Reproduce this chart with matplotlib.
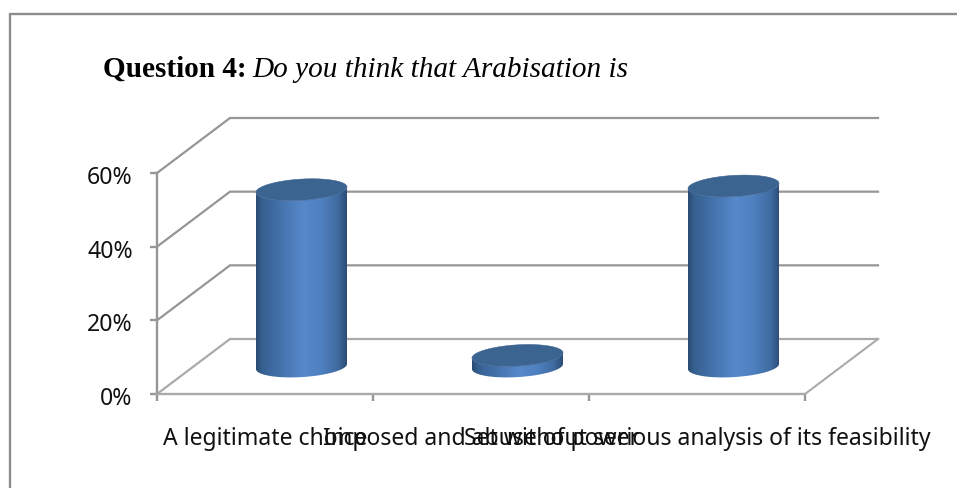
import numpy as np
import matplotlib
matplotlib.use("Agg")
import matplotlib.pyplot as plt
from matplotlib.colors import LinearSegmentedColormap
from matplotlib.lines import Line2D
from matplotlib.patches import Polygon
from matplotlib.transforms import ScaledTranslation

categories = ["A legitimate choice", "Imposed and abuse of power",
              "Set without serious analysis of its feasibility"]
shares = [0.48, 0.03, 0.49]
y_ticks = [0.0, 0.2, 0.4, 0.6]
y_labels = ["0%", "20%", "40%", "60%"]

W, H = 957, 488
GRID = "#969696"
FLOOR = "#aaaaaa"

fig = plt.figure(figsize=(W / 100, H / 100), dpi=100, facecolor="white")
ax = fig.add_axes([157 / W, 1 - 394 / H, 648 / W, 221 / H])
ax.set_xlim(0, 3)
ax.set_ylim(0, 0.6)
ax.patch.set_alpha(0)

# Oblique projection of the chart box, in data units
depth_x = 73 / 648 * 3
depth_y = 55 / 221 * 0.6

for v in y_ticks:
    color = FLOOR if v == 0 else GRID
    ax.plot([0, depth_x, 3 + depth_x], [v, v + depth_y, v + depth_y],
            color=color, lw=1.6, clip_on=False, zorder=1, solid_joinstyle="miter")
ax.plot([3, 3 + depth_x], [0, depth_y], color=FLOOR, lw=1.5, clip_on=False, zorder=1)

for side in ("top", "right"):
    ax.spines[side].set_visible(False)
ax.spines["left"].set_color(GRID)
ax.spines["left"].set_linewidth(1.7)
ax.spines["bottom"].set_color(FLOOR)
ax.spines["bottom"].set_linewidth(1.7)

ax.set_yticks(y_ticks, y_labels)
ax.set_xticks([0, 1, 2, 3], [])
ax.set_xticks([0.5, 1.5, 2.5], categories, minor=True)
ax.tick_params(axis="both", which="major", color=GRID, width=1.7, length=5)
ax.tick_params(axis="y", labelsize=16.6, pad=12.5, labelcolor="#111111")
ax.tick_params(axis="x", which="minor", length=0, labelsize=16.55, pad=23.5, labelcolor="#111111")
nudge = ScaledTranslation(0, -2 / 100, fig.dpi_scale_trans)
for lab in ax.get_xticklabels(minor=True) + ax.get_yticklabels():
    lab.set_family("Noto Sans")
for lab in ax.get_yticklabels():
    lab.set_transform(lab.get_transform() + nudge)

# Cylinders
half_w = 45.5 / 648 * 3
tilt = 2.6 / 221 * 0.6
minor = 10.6 / 221 * 0.6
side_cmap = LinearSegmentedColormap.from_list(
    "cyl", [(0.0, "#2b4b72"), (0.06, "#35608f"), (0.3, "#4675af"), (0.52, "#5688cb"),
            (0.72, "#4f80bf"), (0.9, "#3f6ba1"), (1.0, "#2c4c74")])
gradient = np.linspace(0, 1, 256).reshape(1, -1)


def ellipse(cx, cy, t):
    return np.column_stack([cx + half_w * np.cos(t),
                            cy + tilt * np.cos(t) + minor * np.sin(t)])


for i, value in enumerate(shares):
    cx = i + 0.5 + depth_x / 2
    base = depth_y / 2
    top = base + value
    lower = np.linspace(np.pi, 2 * np.pi, 80)
    outline = np.vstack([ellipse(cx, base, lower), ellipse(cx, top, lower[::-1])])
    body = Polygon(outline, closed=True, transform=ax.transData,
                   facecolor="none", edgecolor="none")
    ax.add_patch(body)
    im = ax.imshow(gradient, cmap=side_cmap, aspect="auto", zorder=3,
                   extent=[cx - half_w, cx + half_w, base - 0.1, top + 0.1])
    im.set_clip_path(body)
    cap = ellipse(cx, top, np.linspace(0, 2 * np.pi, 160))
    ax.add_patch(Polygon(cap, closed=True, facecolor="#3c6491", edgecolor="#3c6491",
                         lw=0.4, zorder=4))
ax.set_xlim(0, 3)
ax.set_ylim(0, 0.6)

# Heading in a bold run followed by an italic run
head = fig.text(103 / W, 1 - 77 / H, "Question 4:", family="Liberation Serif",
                weight="bold", fontsize=21.1, color="black", va="baseline")
fig.canvas.draw()
box = head.get_window_extent()
fig.text((box.x1 + 6) / W, 1 - 77 / H, "Do you think that Arabisation is",
         family="Liberation Serif", style="italic", fontsize=21.1, color="black",
         va="baseline")

# Outer frame: only the left and top edges fall within the canvas
fig.add_artist(Line2D([10 / W, 10 / W, 1], [0, 1 - 14 / H, 1 - 14 / H],
                      color="#8c8c8c", lw=1.7, solid_joinstyle="miter"))

fig.savefig("out.png", dpi=100)
